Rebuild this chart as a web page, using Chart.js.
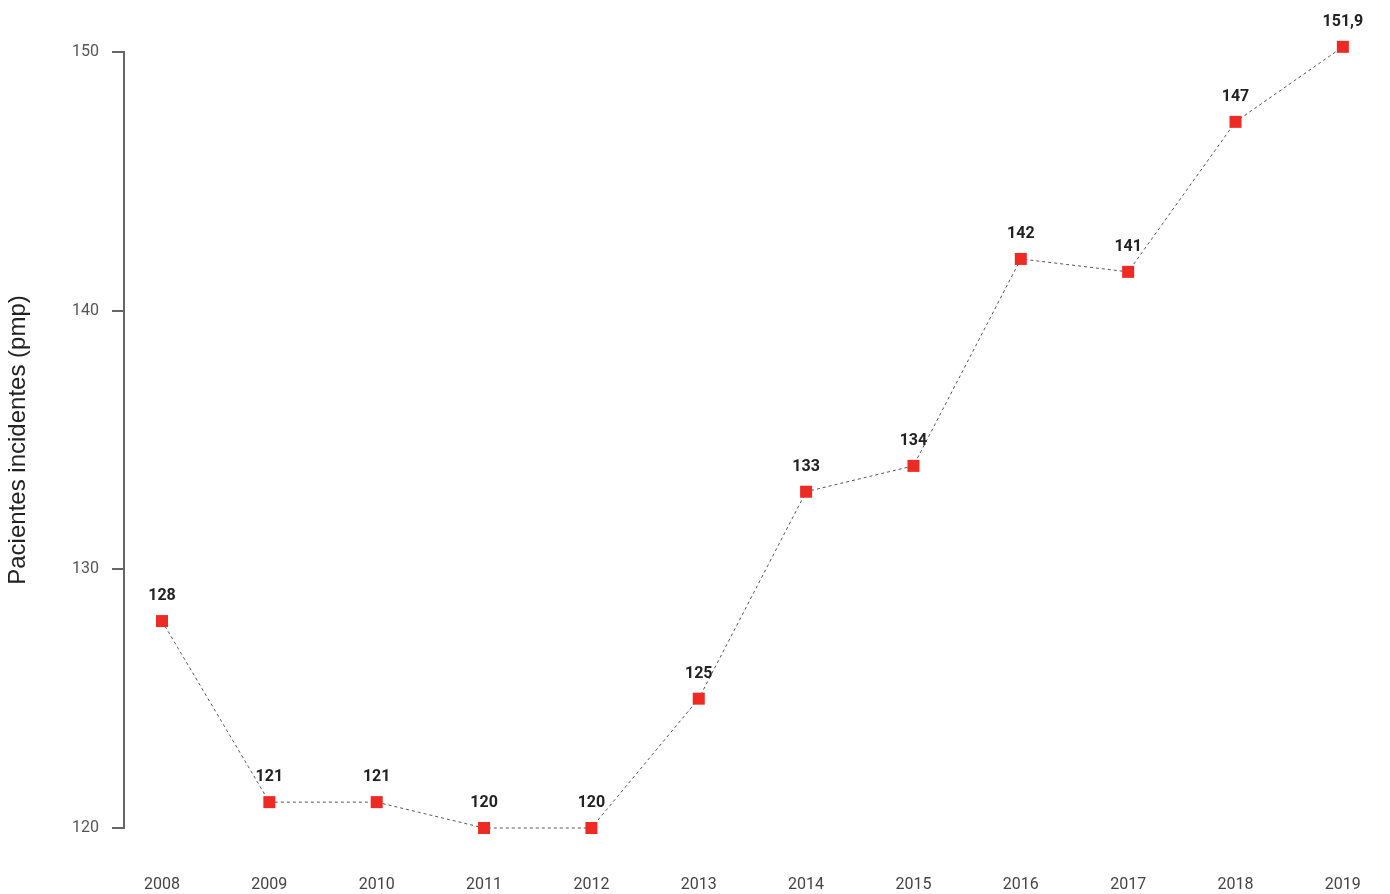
<!DOCTYPE html>
<html>
<head>
<meta charset="utf-8">
<script src="https://cdn.jsdelivr.net/npm/chart.js@4.4.1/dist/chart.umd.min.js"></script>
<style>
  html, body { margin: 0; padding: 0; background: #fff; }
  .wrap { width: 1390px; height: 894px; }
</style>
</head>
<body>
<div class="wrap"><canvas id="incChart"></canvas></div>
<script>
// data
const years = [2008, 2009, 2010, 2011, 2012, 2013, 2014, 2015, 2016, 2017, 2018, 2019];
const values = [128, 121, 121, 120, 120, 125, 133, 134, 142, 141.5, 147.3, 150.2];
const pointLabels = ["128", "121", "121", "120", "120", "125", "133", "134", "142", "141", "147", "151,9"];
const yTicks = [120, 130, 140, 150];

// draws the bold number above each square
const valueLabels = {
  id: "valueLabels",
  afterDatasetsDraw(chart) {
    const ctx = chart.ctx;
    const meta = chart.getDatasetMeta(0);
    ctx.save();
    ctx.font = "bold 16px Roboto";
    ctx.fillStyle = "#222";
    ctx.textAlign = "center";
    ctx.textBaseline = "middle";
    meta.data.forEach((pt, i) => {
      ctx.fillText(pointLabels[i], pt.x, pt.y - 25);
    });
    ctx.restore();
  }
};

const ctx = document.getElementById("incChart");
new Chart(ctx, {
  type: "line",
  data: {
    datasets: [{
      data: years.map((y, i) => ({ x: y, y: values[i] })),
      borderColor: "#555",
      borderWidth: 1,
      borderDash: [3, 3],
      pointStyle: "rect",
      pointRadius: 8.5,
      pointBorderWidth: 0,
      pointBackgroundColor: "#ee2a24",
      pointBorderColor: "#ee2a24",
      clip: false,
      tension: 0
    }]
  },
  options: {
    responsive: true,
    maintainAspectRatio: false,
    animation: false,
    layout: { padding: { top: 52, right: 3, left: 0, bottom: 0 } },
    plugins: { legend: { display: false }, tooltip: { enabled: false } },
    scales: {
      x: {
        type: "linear",
        min: 2007.646,
        max: 2019.36,
        grid: { display: false, drawTicks: true, tickLength: 47 },
        border: { display: false },
        afterBuildTicks: (scale) => { scale.ticks = years.map(v => ({ value: v })); },
        afterFit: (scale) => { scale.height = 66; },
        ticks: {
          padding: 0,
          color: "#444",
          font: { family: "Roboto", size: 16 },
          callback: (v) => String(v)
        }
      },
      y: {
        min: 120,
        max: 150,
        afterBuildTicks: (scale) => { scale.ticks = yTicks.map(v => ({ value: v })); },
        afterFit: (scale) => { scale.width = 124; },
        grid: { drawOnChartArea: false, drawTicks: true, tickLength: 12, color: "#666", lineWidth: 2 },
        border: { display: true, color: "#666", width: 2 },
        ticks: {
          padding: 13,
          color: "#555",
          font: { family: "Roboto", size: 16 }
        },
        title: {
          display: true,
          text: "Pacientes incidentes (pmp)",
          color: "#222",
          font: { family: "Liberation Sans", size: 24 },
          padding: { top: 4, bottom: 0 }
        }
      }
    }
  },
  plugins: [valueLabels]
});
</script>
</body>
</html>
